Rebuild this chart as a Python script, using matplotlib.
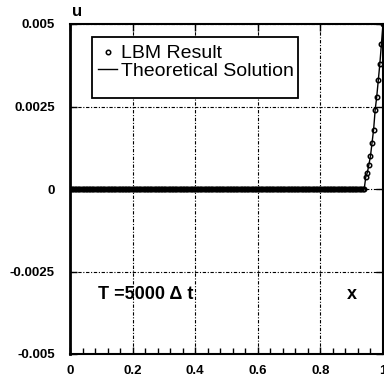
import numpy as np
import matplotlib
matplotlib.use("Agg")
import matplotlib.pyplot as plt
from matplotlib.patches import Rectangle

# Data
x_flat = np.round(np.arange(0.0, 0.94, 0.005), 3)
u_flat = np.zeros(len(x_flat))
x_rise = [0.94, 0.945, 0.95, 0.955, 0.96, 0.965, 0.97, 0.975, 0.98, 0.985, 0.99, 0.995, 1.0]
u_rise = [0.0, 0.00037, 0.0005, 0.00074, 0.001, 0.0014, 0.0018, 0.0024, 0.0028, 0.0033, 0.0038, 0.0044, 0.005]
x_lbm = np.concatenate([x_flat, x_rise])
u_lbm = np.concatenate([u_flat, u_rise])
x_theory = np.concatenate([[0.0], x_rise])
u_theory = np.concatenate([[0.0], u_rise])

xticks = [0, 0.2, 0.4, 0.6, 0.8, 1]
xticklabels = ["0", "0.2", "0.4", "0.6", "0.8", "1"]
yticks = [-0.005, -0.0025, 0, 0.0025, 0.005]
yticklabels = ["-0.005", "-0.0025", "0", "0.0025", "0.005"]

plt.rcParams['font.family'] = ['Liberation Sans', 'DejaVu Sans']

fig = plt.figure(figsize=(3.84, 3.87), dpi=100)
ax = fig.add_axes([70/384, 1-354/387, 313/384, 330/387])

ax.plot(x_theory, u_theory, '-', color='black', lw=1.0, label='Theoretical Solution', zorder=3)
ax.plot(x_lbm, u_lbm, 'o', mfc='none', mec='black', ms=3.2, mew=1.1, label='LBM Result', zorder=4)

ax.set_xlim(0, 1)
ax.set_ylim(-0.005, 0.005)
ax.set_xticks(xticks)
ax.set_xticklabels(xticklabels, fontweight='bold', fontsize=9.5)
ax.set_yticks(yticks)
ax.set_yticklabels(yticklabels, fontweight='bold', fontsize=9.5)
ax.set_xticks(np.arange(0, 1.0001, 0.04), minor=True)
ax.tick_params(axis='both', which='major', direction='in', top=True, right=True)
ax.tick_params(axis='x', which='minor', direction='in', top=False, length=4, width=1)
ax.tick_params(axis='x', which='major', length=5, width=1, pad=8)
ax.tick_params(axis='y', which='major', length=5, width=1, pad=11)
for s in ax.spines.values():
    s.set_linewidth(1.5)
ax.spines['left'].set_linewidth(2.0)

ax.grid(True, which='major', color='black', lw=0.8, linestyle=(0, (3, 1.5, 1, 1.5)))

# legend box
ax.add_patch(Rectangle((22/313, 1-74/330), 206/313, 61/330, transform=ax.transAxes,
                       facecolor='white', edgecolor='black', lw=1.3, zorder=5))
handles, labels = ax.get_legend_handles_labels()
leg = ax.legend([handles[1], handles[0]], [labels[1], labels[0]],
                loc='upper left', bbox_to_anchor=(22/313, 1-15/330),
                fontsize=14, frameon=False,
                handlelength=1.0, handletextpad=0.2, borderpad=0.3, labelspacing=0.0,
                borderaxespad=0)
leg.set_zorder(6)

ax.text(0.088, 0.18, 'T =5000 Δ t', transform=ax.transAxes, fontsize=13, fontweight='bold', va='center')
ax.text(0.9, 0.18, 'x', transform=ax.transAxes, fontsize=13, fontweight='bold', va='center', ha='center')
fig.text(77/384, 1-12/387, 'u', fontsize=12, fontweight='bold', ha='center', va='center')

fig.savefig('out.png', dpi=100)
